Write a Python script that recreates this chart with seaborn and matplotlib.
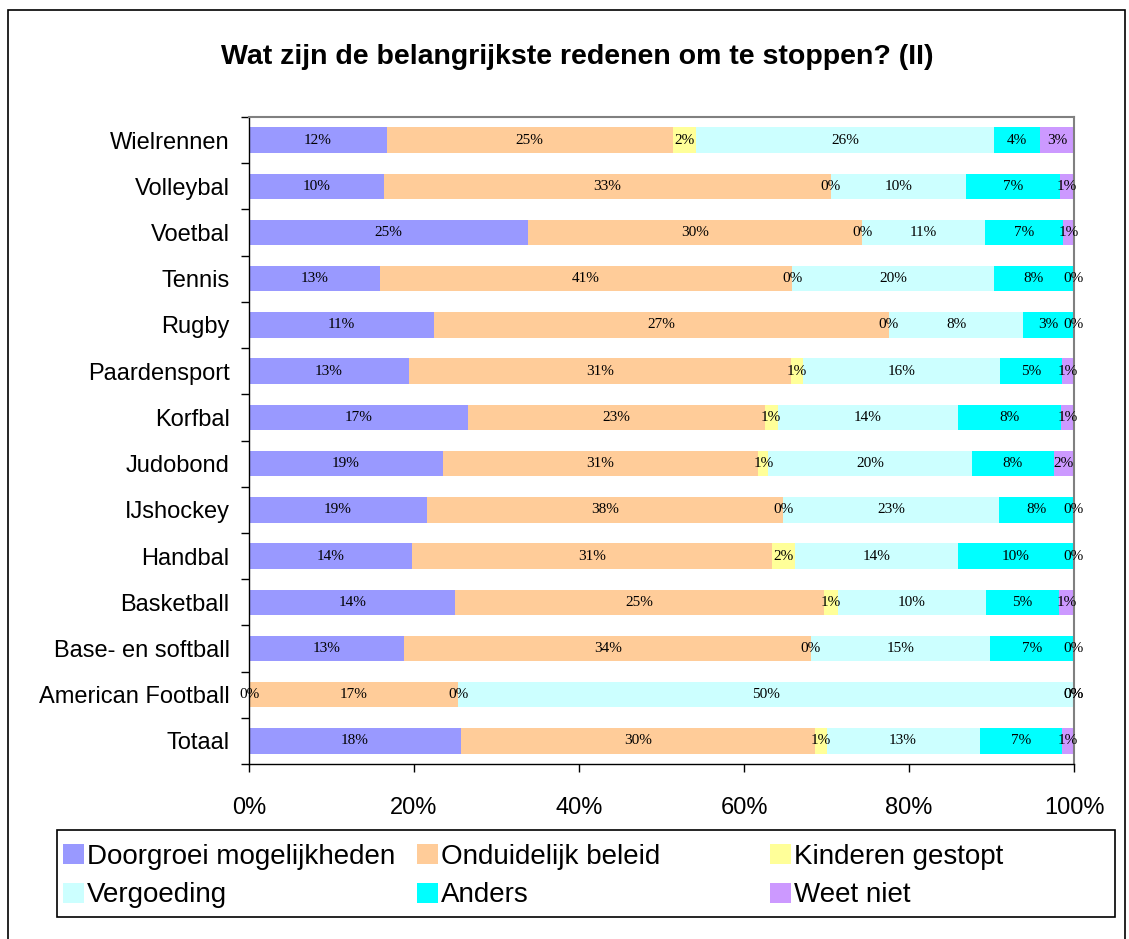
import numpy as np
import pandas as pd
import matplotlib
matplotlib.use("Agg")
import matplotlib.pyplot as plt
import seaborn as sns
from matplotlib.patches import Rectangle, Patch
from matplotlib.ticker import PercentFormatter, FixedLocator

# ---------------- data ----------------
sports = ["Wielrennen", "Volleybal", "Voetbal", "Tennis", "Rugby", "Paardensport",
          "Korfbal", "Judobond", "IJshockey", "Handbal", "Basketball",
          "Base- en softball", "American Football", "Totaal"]
doorgroei = [12, 10, 25, 13, 11, 13, 17, 19, 19, 14, 14, 13, 0, 18]
onduidelijk = [25, 33, 30, 41, 27, 31, 23, 31, 38, 31, 25, 34, 17, 30]
kinderen = [2, 0, 0, 0, 0, 1, 1, 1, 0, 2, 1, 0, 0, 1]
vergoeding = [26, 10, 11, 20, 8, 16, 14, 20, 23, 14, 10, 15, 50, 13]
anders = [4, 7, 7, 8, 3, 5, 8, 8, 8, 10, 5, 7, 0, 7]
weet_niet = [3, 1, 1, 0, 0, 1, 1, 2, 0, 0, 1, 0, 0, 1]
series_names = ["Doorgroei mogelijkheden", "Onduidelijk beleid", "Kinderen gestopt",
                "Vergoeding", "Anders", "Weet niet"]
colors = ["#9999FF", "#FFCC99", "#FFFF99", "#CCFFFF", "#00FFFF", "#CC99FF"]
title = "Wat zijn de belangrijkste redenen om te stoppen? (II)"

# ---------------- styling ----------------
sns.set_theme(style="white")
plt.rcParams["font.family"] = ["Liberation Sans", "DejaVu Sans"]
plt.rcParams["text.color"] = "black"
plt.rcParams["xtick.color"] = "black"
plt.rcParams["ytick.color"] = "black"
plt.rcParams["xtick.labelcolor"] = "black"
plt.rcParams["ytick.labelcolor"] = "black"

raw = pd.DataFrame(dict(zip(series_names,
                            [doorgroei, onduidelijk, kinderen, vergoeding, anders, weet_niet])),
                   index=sports)
share = raw.div(raw.sum(axis=1), axis=0)
cum = share.cumsum(axis=1)

W, H = 1129, 939
fig = plt.figure(figsize=(W / 100, H / 100), dpi=100)
ax = fig.add_axes([249 / W, 1 - 764 / H, (1074 - 249) / W, (764 - 117) / H])

# stacked bars: draw cumulative totals from the largest down
for i in range(len(series_names) - 1, -1, -1):
    d = pd.DataFrame({"sport": sports, "val": cum.iloc[:, i].values})
    sns.barplot(data=d, x="val", y="sport", orient="h", color=colors[i],
                saturation=1, width=0.55, ax=ax, linewidth=0, order=sports)

# data labels
for j, s in enumerate(sports):
    for i, name in enumerate(series_names):
        left = cum.iloc[j, i] - share.iloc[j, i]
        xc = left + share.iloc[j, i] / 2
        ax.text(xc, j, f"{raw.iloc[j, i]}%", ha="center", va="center",
                fontsize=11, family="Liberation Serif", color="black")

ax.set_xlim(0, 1)
ax.set_ylim(len(sports) - 0.5, -0.5)
ax.set_xlabel("")
ax.set_ylabel("")
ax.xaxis.set_major_locator(FixedLocator([0, 0.2, 0.4, 0.6, 0.8, 1.0]))
ax.xaxis.set_major_formatter(PercentFormatter(1.0, decimals=0))
ax.tick_params(axis="x", which="major", direction="out", length=6, width=1,
               color="black", labelsize=17, pad=18, bottom=True)
ax.tick_params(axis="y", which="major", length=0, labelsize=17, pad=14)
ax.yaxis.set_minor_locator(FixedLocator(np.arange(-0.5, len(sports), 1.0)))
ax.tick_params(axis="y", which="minor", direction="out", length=6, width=1,
               color="black", left=True)

for sp in ["left", "bottom"]:
    ax.spines[sp].set_color("black")
    ax.spines[sp].set_linewidth(1.0)
for sp in ["top", "right"]:
    ax.spines[sp].set_color("#808080")
    ax.spines[sp].set_linewidth(1.5)
    ax.spines[sp].set_visible(True)

# title
fig.text(577 / W, 1 - 57 / H, title, ha="center", va="center",
         fontsize=20.5, fontweight="bold", color="black")

# legend: three columns laid out like the original
handles = [Patch(facecolor=c, edgecolor="none") for c in colors]
col_x = [63, 417, 770]
for k in range(3):
    hs = [handles[k], handles[k + 3]]
    ls = [series_names[k], series_names[k + 3]]
    fig.legend(hs, ls, loc="upper left", bbox_to_anchor=(col_x[k] / W, 1 - 844 / H),
               frameon=False, fontsize=20, handlelength=0.75, handleheight=0.72,
               handletextpad=0.1, labelspacing=0.45, borderpad=0, borderaxespad=0,
               labelcolor="black")

fig.patches.append(Rectangle((57 / W, 1 - 917 / H), (1115 - 57) / W, 87 / H,
                             transform=fig.transFigure, fill=False,
                             edgecolor="black", linewidth=1.2))
# outer chart border
fig.patches.append(Rectangle((8 / W, -0.01), (1125 - 8) / W, 1 - 10 / H + 0.01,
                             transform=fig.transFigure, fill=False,
                             edgecolor="black", linewidth=1.2))

fig.savefig("out.png", dpi=100)
